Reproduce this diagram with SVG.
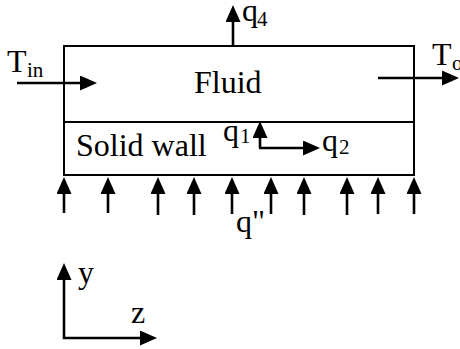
<svg xmlns="http://www.w3.org/2000/svg" width="460" height="349" viewBox="0 0 460 349">
<style>
text{font-family:"Liberation Serif","Times New Roman",serif;font-size:32px;fill:#000}
.sub{font-size:21px}
.box{fill:none;stroke:#000;stroke-width:2}
.arr{fill:none;stroke:#000;stroke-width:2.6;marker-end:url(#ah)}
</style>
<defs>
<marker id="ah" markerWidth="17" markerHeight="15" viewBox="0 0 17 15" refX="1" refY="7.5" orient="auto" markerUnits="userSpaceOnUse">
<path d="M0,0 L17,7.5 L0,15 z" fill="#000"/>
</marker>
</defs>
<rect width="460" height="349" fill="#fff"/>
<g id="fluid">
<rect class="box" x="64" y="46" width="350" height="76"/>
<text x="194" y="93">Fluid</text>
</g>
<g id="solid-wall">
<rect class="box" x="64" y="122" width="350" height="53"/>
<text x="76" y="156">Solid wall</text>
</g>
<g id="connectors">
<path class="arr" d="M17,83 H81"/>
<path class="arr" d="M378,78 H443"/>
<path class="arr" d="M233,46 V21"/>
<path class="arr" d="M260,148 V137"/>
<path class="arr" d="M259,148 H304"/>
<path class="arr" d="M64,213 V193"/>
<path class="arr" d="M108,213 V193"/>
<path class="arr" d="M158,215 V193"/>
<path class="arr" d="M194,215 V193"/>
<path class="arr" d="M232,214 V193"/>
<path class="arr" d="M271,214 V193"/>
<path class="arr" d="M304,215 V193"/>
<path class="arr" d="M347,215 V193"/>
<path class="arr" d="M378,214 V193"/>
<path class="arr" d="M414,214 V193"/>
<path class="arr" d="M64,339 V279"/>
<path class="arr" d="M63,338 H141"/>
</g>
<g id="labels">
<text x="7" y="72">T<tspan class="sub" x="27" y="77">in</tspan></text>
<text x="432" y="65">T<tspan class="sub" x="452" y="70">o</tspan></text>
<text x="242" y="21">q<tspan class="sub" x="257" y="26">4</tspan></text>
<text x="223" y="141">q<tspan class="sub" x="240" y="143">1</tspan></text>
<text x="322" y="151">q<tspan class="sub" x="339" y="154">2</tspan></text>
<text x="236" y="232">q"</text>
<text x="78" y="283">y</text>
<text x="131" y="323">z</text>
</g>
</svg>
